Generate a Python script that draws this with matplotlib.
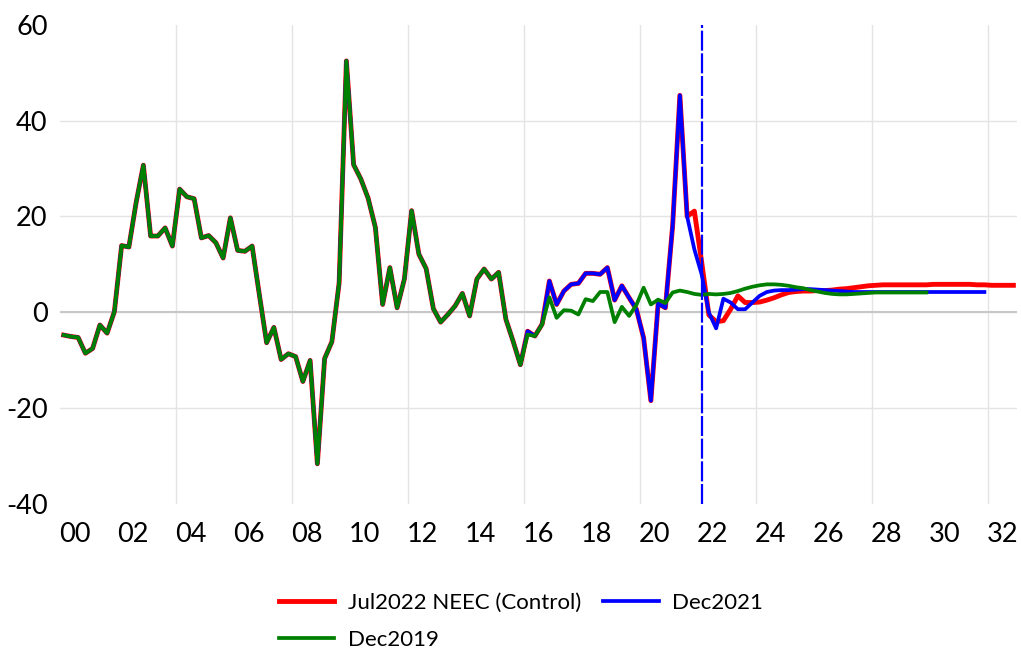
import numpy as np
import matplotlib
matplotlib.use("Agg")
import matplotlib.pyplot as plt

plt.rcParams['font.family'] = ['Lato', 'DejaVu Sans']
plt.rcParams['axes.unicode_minus'] = False

# quarterly % growth, 2000Q1 onward; common history up to 2015Q4
history = [-4.8, -5.1, -5.3, -8.6, -7.6, -2.7, -4.4, 0.1,
           13.9, 13.6, 22.9, 30.7, 15.9, 15.9, 17.6, 13.8,
           25.7, 24.1, 23.7, 15.5, 16.0, 14.5, 11.3, 19.7,
           12.9, 12.7, 13.8, 3.6, -6.4, -3.2, -9.9, -8.7,
           -9.3, -14.5, -10.1, -31.7, -9.7, -6.2, 6.1, 52.5,
           30.8, 27.8, 23.8, 17.7, 1.6, 9.3, 0.9, 6.9,
           21.2, 12.1, 9.1, 0.7, -2.1, -0.5, 1.3, 3.9,
           -0.8, 6.9, 9.0, 6.9, 8.3, -1.5, -6.1, -11.0]

# 2016Q1 onward
control = [-4.0, -5.0, -2.5, 6.5, 1.6, 4.4, 5.8, 6.0,
           8.1, 8.1, 7.9, 9.3, 2.5, 5.5, 3.0, 0.6,
           -5.4, -18.5, 1.8, 0.9, 18.0, 45.3, 20.0, 21.1,
           10.5, -0.6, -2.0, -1.8, 0.6, 3.4, 2.0, 2.0,
           2.1, 2.5, 3.0, 3.6, 4.1, 4.3, 4.4, 4.4,
           4.5, 4.5, 4.6, 4.8, 4.9, 5.1, 5.3, 5.5,
           5.6, 5.7, 5.7, 5.7, 5.7, 5.7, 5.7, 5.7,
           5.8, 5.8, 5.8, 5.8, 5.8, 5.8, 5.7, 5.7,
           5.6, 5.6, 5.6, 5.6]
dec2021 = [-4.0, -5.0, -2.5, 6.5, 1.6, 4.4, 5.8, 6.0,
           8.1, 8.1, 7.9, 9.3, 2.5, 5.5, 3.0, 0.6,
           -5.4, -18.5, 1.8, 0.9, 18.0, 45.3, 20.0, 13.1,
           7.9, -0.1, -3.4, 2.8, 2.0, 0.6, 0.6, 2.0,
           3.4, 4.2, 4.5, 4.6, 4.6, 4.7, 4.8, 4.8,
           4.7, 4.6, 4.5, 4.4, 4.3, 4.2, 4.2, 4.2,
           4.2, 4.2, 4.2, 4.2, 4.2, 4.2, 4.2, 4.2,
           4.2, 4.2, 4.2, 4.2, 4.2, 4.2, 4.2, 4.2]
dec2019 = [-4.7, -5.0, -2.6, 3.1, -1.2, 0.4, 0.3, -0.5,
           2.7, 2.3, 4.2, 4.2, -2.1, 1.1, -0.8, 1.5,
           5.1, 1.6, 2.6, 1.9, 4.1, 4.5, 4.2, 3.8,
           3.6, 3.8, 3.7, 3.8, 4.0, 4.4, 4.9, 5.3,
           5.6, 5.8, 5.8, 5.7, 5.5, 5.2, 5.0, 4.6,
           4.3, 4.0, 3.8, 3.7, 3.7, 3.8, 3.9, 4.0,
           4.1, 4.1, 4.1, 4.1, 4.1, 4.1, 4.1, 4.1]

series = [('Jul2022 NEEC (Control)', control, 'red', 3.5),
          ('Dec2021', dec2021, 'blue', 2.7),
          ('Dec2019', dec2019, 'green', 2.7)]

forecast_start = 2022.125
xtick_years = np.arange(2000, 2033, 2)
grid_years = np.arange(2004, 2033, 4)

fig = plt.figure(figsize=(10.21, 6.49), dpi=100)
ax = fig.add_axes([60/1021, 1-503.5/649, (1017-60)/1021, (503.5-25)/649])

lines = {}
for z, (name, vals, col, lw) in enumerate(series):
    y = np.array(history + vals)
    t = 2000.125 + np.arange(len(y)) / 4
    lines[name], = ax.plot(t, y, color=col, lw=lw, label=name, zorder=3+z,
                           solid_joinstyle='round')

ax.axvline(forecast_start, color='blue', lw=1.6, dashes=(9, 1.2), zorder=6)

ax.set_xlim(2000, 2033)
ax.set_ylim(-40, 60)
ax.set_yticks([-40, -20, 0, 20, 40, 60])
ax.set_xticks(xtick_years + 0.5)
ax.set_xticklabels(['%02d' % (yr % 100) for yr in xtick_years])

ax.yaxis.grid(True, color='#e4e4e4', lw=1)
gl = ax.yaxis.get_gridlines()
gl[0].set_visible(False)
gl[-1].set_visible(False)
for yr in grid_years:
    ax.axvline(yr, color='#e4e4e4', lw=1, zorder=0)
ax.axhline(0, color='#c8c8c8', lw=1.5, zorder=1)
ax.set_axisbelow(True)

for s in ax.spines.values():
    s.set_visible(False)
ax.tick_params(length=0, labelsize=19.5)
ax.tick_params(axis='x', pad=13)
ax.tick_params(axis='y', pad=9)

h = [lines['Jul2022 NEEC (Control)'], lines['Dec2019'], lines['Dec2021']]
fig.legend(h, [l.get_label() for l in h], loc='upper center',
           bbox_to_anchor=(0.510, 0.117), ncol=2, frameon=False,
           fontsize=16, handlelength=2.5, handletextpad=0.6,
           columnspacing=1.0, labelspacing=0.75)

fig.savefig('out.png', dpi=100)
